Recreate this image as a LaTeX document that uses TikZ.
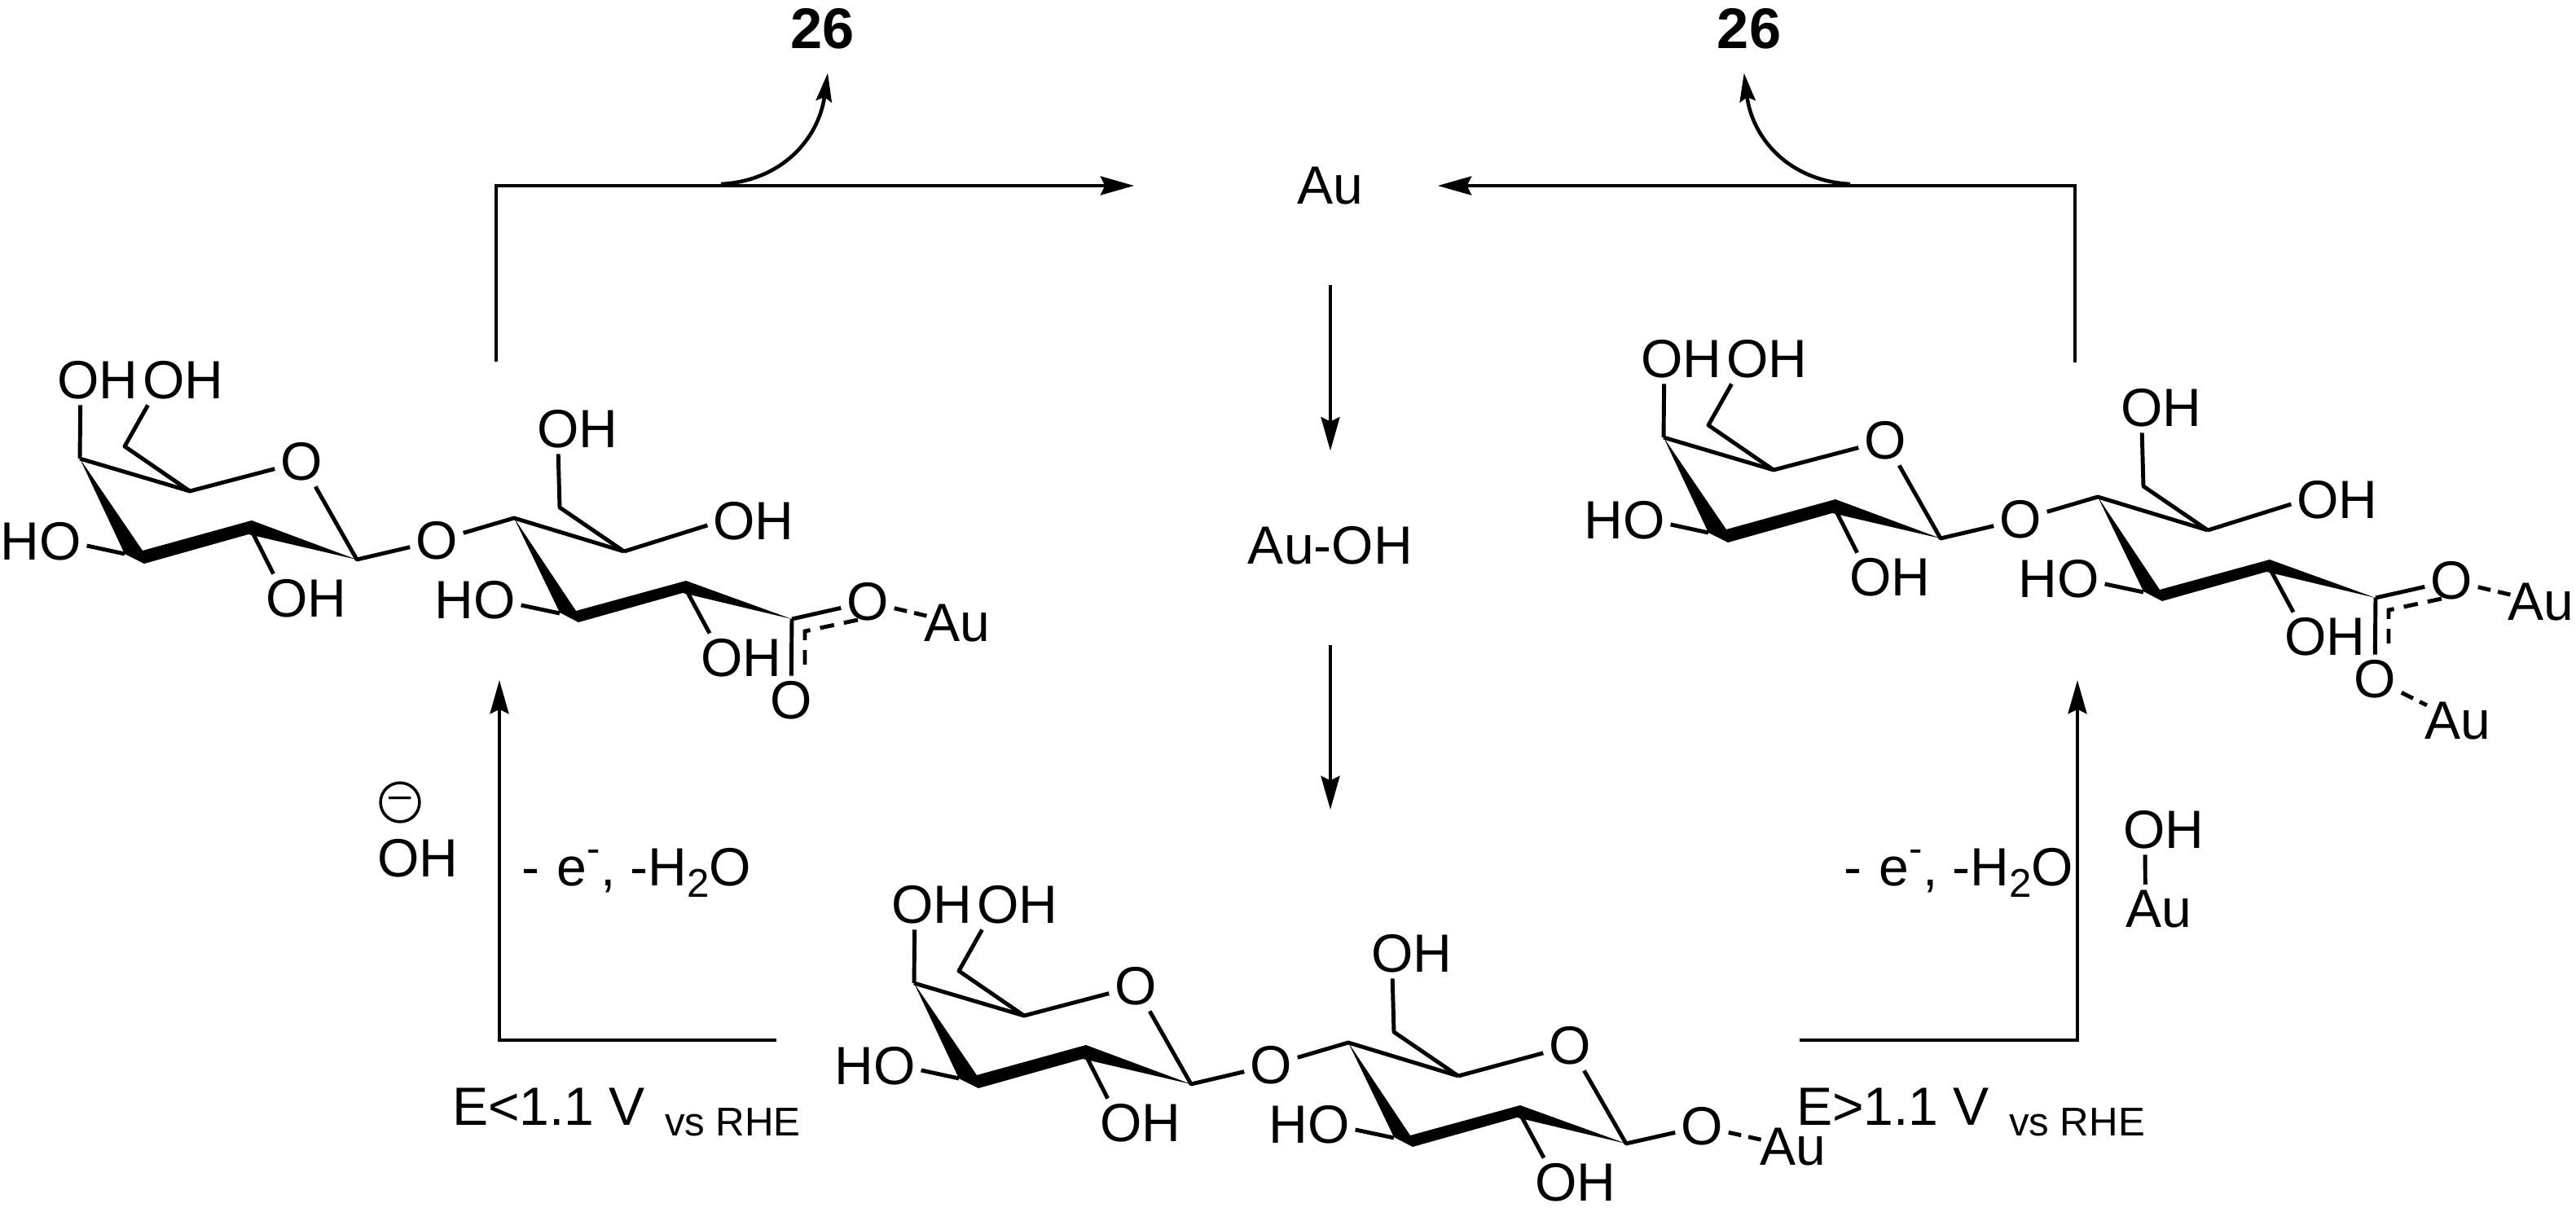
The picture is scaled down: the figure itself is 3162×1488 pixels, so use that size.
\documentclass[tikz,border=0pt]{standalone}
\usepackage{fontspec}
\setmainfont{Liberation Sans}
\usetikzlibrary{arrows.meta}
\tikzset{
  every node/.style={font=\fontsize{18.8}{22}\selectfont,inner sep=0pt,outer sep=2pt},
  bond/.style={line width=1.4pt,line join=round},
  dotbond/.style={line width=1.4pt,dash pattern=on 4.5pt off 2.6pt,shorten >=-3pt},
  delocbond/.style={line width=1.4pt,dash pattern=on 5pt off 3.5pt},
  solidbond/.style={fill=black,draw=none},
  rxn/.style={line width=1.3pt,-{Stealth[length=11.7pt,width=6.5pt,inset=1.5pt]}},
  prodnum/.style={font=\fontsize{20}{24}\selectfont\bfseries}
}
\newcommand{\lossnote}{-\hspace{1pt} e\raisebox{8.2pt}{\fontsize{14}{14}\selectfont -}, -H\raisebox{-4pt}{\fontsize{14}{14}\selectfont 2}O}
\newcommand{\vsnote}{\hspace{6.8pt}\raisebox{-3.7pt}{\fontsize{14}{14}\selectfont vs RHE}}
\newcommand{\sugarunit}{
\coordinate (gc1) at (438,687);
\coordinate (gc2) at (307,648);
\coordinate (gc3) at (153,680);
\coordinate (gc4) at (98,563);
\coordinate (gc5) at (233,603);
\coordinate (gc6) at (153,548);
\coordinate (ac1) at (972,760);
\coordinate (ac2) at (840,720);
\coordinate (ac3) at (687,753);
\coordinate (ac4) at (631,636);
\coordinate (ac5) at (766,677);
\coordinate (ac6) at (687,623);
\node (goh4) at (120,467) {OH};
\node (goh6) at (225,467) {OH};
\node (gho3) at (50,665) {HO};
\node (goh2) at (376,735) {OH};
\node (gox) at (370,567) {O};
\node (oxl) at (536,664) {O};
\node (aoh6) at (709,527) {OH};
\node (aho3) at (583,737) {HO};
\node (aoh2) at (910,808) {OH};
\fill [solidbond] (98,563) -- (153,680) -- (177,692) -- (305,656) -- (438,687) -- (309,639) -- (175,676) -- cycle;
\fill [solidbond] (631,636) -- (687,752) -- (710,764) -- (838,728) -- (972,760) -- (842,713) -- (707,750) -- cycle;
\draw [bond] (gc4) -- (gc5) -- (gox);
\draw [bond] (gox) -- (gc1) -- (oxl) -- (ac4) -- (ac5);
\draw [bond] (gc4) -- (goh4.235);
\draw [bond] (gc5) -- (gc6) -- (goh6.215);
\draw [bond] (gc3) -- (gho3.355);
\draw [bond] (gc2) -- (goh2.143);
\draw [bond] (ac5) -- (ac6) -- (aoh6.232);
\draw [bond] (ac3) -- (aho3.354);
\draw [bond] (ac2) -- (aoh2.142);
}
\newcommand{\acidunit}{
\node (oa) at (1065,739) {O};
\node (ob) at (971,860) {O};
\node (aua) at (1175,765) {Au};
\coordinate (ka) at (1053,761);
\coordinate (kb) at (988,775);
\coordinate (kc) at (988,827);
\draw [bond] (ac1) -- (oa);
\draw [bond] (ac1) -- (ob);
\draw [delocbond] (ka) -- (kb) -- (kc);
\draw [dotbond] (oa) -- (aua);
}
\begin{document}
\begin{tikzpicture}[x=0.01cm,y=-0.01cm]
\useasboundingbox (0,0) rectangle (3162,1488);

\node (au) at (1633,228) {Au};
\node (auoh) at (1633,670) {Au-OH};
\node [prodnum] (proda) at (1010,35) {26};
\node [prodnum] (prodb) at (2147,35) {26};
\coordinate (lstart) at (609,444);
\coordinate (rstart) at (2547,445);
\coordinate (lfork) at (885,226);
\coordinate (rfork) at (2271,226);
\coordinate (auend) at (1633,994);

\draw [rxn,shorten >=55pt] (lstart) |- (au);
\draw [rxn,shorten >=24pt] (rstart) |- (au);
\draw [rxn,-{Stealth[length=10pt,width=5.5pt,inset=1.5pt]},shorten >=6.5pt] (lfork) .. controls (960,222) and (1005,170) .. (proda.286);
\draw [rxn,-{Stealth[length=10pt,width=5.5pt,inset=1.5pt]},shorten >=6.5pt] (rfork) .. controls (2196,222) and (2151,170) .. (prodb.254);
\draw [rxn,xshift=1.2pt,shorten <=26pt,shorten >=24.5pt] (au) -- (auoh);
\draw [rxn,xshift=1.2pt,shorten <=26pt] (auoh) -- (auend);

\begin{scope}[name prefix=l-]
\sugarunit
\acidunit
\node (oh5) at (925,640) {OH};
\draw [bond] (ac5) -- (oh5.185);
\end{scope}

\begin{scope}[name prefix=r-,shift={(1944,-26)}]
\sugarunit
\acidunit
\node (oh5) at (925,640) {OH};
\node (aub) at (1073,911) {Au};
\draw [bond] (ac5) -- (oh5.185);
\draw [dotbond] (ob) -- (aub);
\end{scope}

\begin{scope}[name prefix=b-,shift={(1024,644)}]
\sugarunit
\node (ox5) at (903,640) {O};
\node (oa) at (1065,739) {O};
\node (aua) at (1177,764) {Au};
\draw [bond] (ac5) -- (ox5) -- (ac1) -- (oa);
\draw [dotbond] (oa) -- (aua);
\end{scope}

\coordinate (lbot) at (953,1277);
\coordinate (lcorner) at (613,1277);
\coordinate (ltip) at (613,835);
\coordinate (rbot) at (2209,1277);
\coordinate (rcorner) at (2550,1277);
\coordinate (rtip) at (2550,835);
\draw [rxn] (lbot) -- (lcorner) -- (ltip);
\draw [rxn] (rbot) -- (rcorner) -- (rtip);

\node [circle,draw,line width=1pt,minimum size=13.6pt,font=\fontsize{14}{14}\selectfont] (chg) at (491,985) {\raisebox{-1pt}{--}};
\node (hyd) at (513,1054) {OH};
\node [anchor=base west] (lossl) at (633,1087) {\lossnote};
\node [anchor=base west] (lossr) at (2256,1087) {\lossnote};
\node (ohr) at (2656,1019) {OH};
\node (aur) at (2650,1116) {Au};
\draw [bond] (ohr.233) -- (aur.119);
\node [anchor=base west] (potl) at (548,1381) {E<1.1 V\vsnote};
\node [anchor=base west] (potr) at (2198,1381) {E>1.1 V\vsnote};
\end{tikzpicture}
\end{document}
